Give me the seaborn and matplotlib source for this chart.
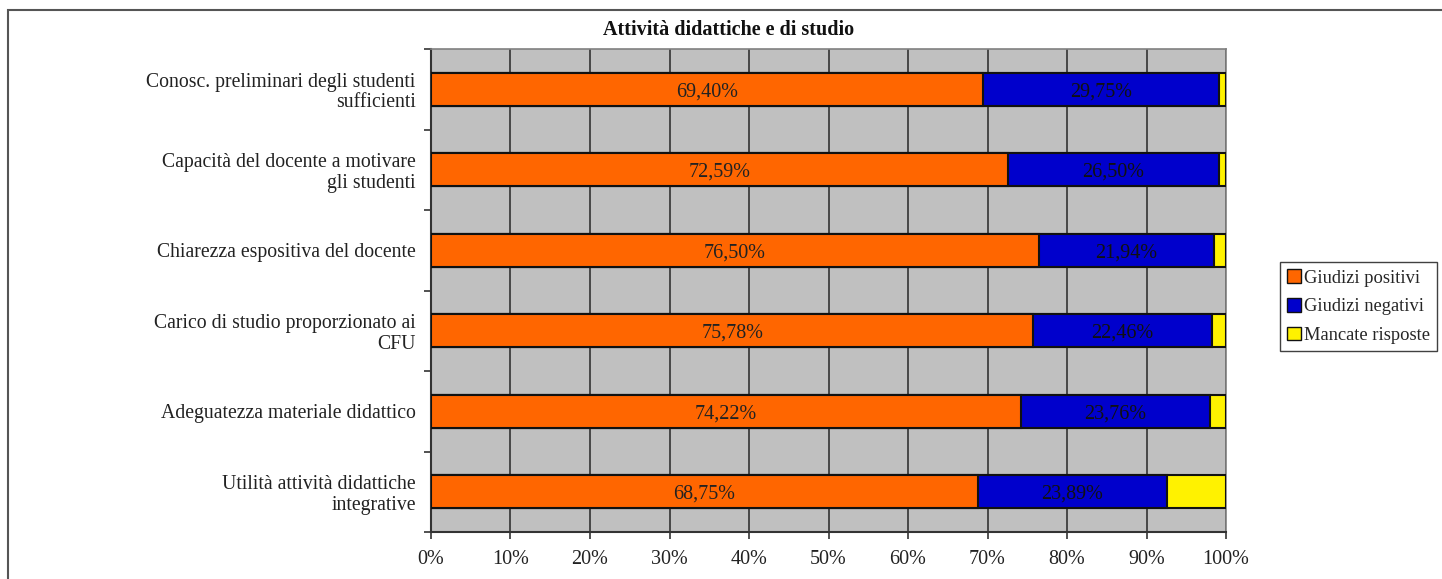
import matplotlib
matplotlib.use("Agg")
import matplotlib.pyplot as plt
import matplotlib.patches as mpatches
from matplotlib.ticker import FixedLocator
import seaborn as sns
import pandas as pd
import numpy as np

categories = [
    "Conosc. preliminari degli studenti\nsufficienti",
    "Capacità del docente a motivare\ngli studenti",
    "Chiarezza espositiva del docente",
    "Carico di studio proporzionato ai\nCFU",
    "Adeguatezza materiale didattico",
    "Utilità attività didattiche\nintegrative",
]
positivi = [69.40, 72.59, 76.50, 75.78, 74.22, 68.75]
negativi = [29.75, 26.50, 21.94, 22.46, 23.76, 23.89]
mancate = [0.85, 0.91, 1.56, 1.76, 2.02, 7.36]
series_names = ["Giudizi positivi", "Giudizi negativi", "Mancate risposte"]
colors = ["#FF6600", "#0000CC", "#FFF200"]
xticks = list(range(0, 101, 10))

sns.set_theme(style="white")
plt.rcParams["font.family"] = ["Liberation Serif", "DejaVu Serif"]

df = pd.DataFrame({"cat": categories, "pos": positivi, "neg": negativi, "mis": mancate})
df["c2"] = df["pos"] + df["neg"]
df["c3"] = df["c2"] + df["mis"]

fig = plt.figure(figsize=(14.42, 5.79), dpi=100)
ax = fig.add_axes([431/1442, 1-532/579, (1226-431)/1442, (532-49)/579])
ax.set_facecolor("#C0C0C0")

FS = 14.5
bw = 0.41
for col, c in [("c3", colors[2]), ("c2", colors[1]), ("pos", colors[0])]:
    sns.barplot(data=df, x=col, y="cat", orient="h", color=c, width=bw,
                edgecolor="#111111", linewidth=1.5, saturation=1, ax=ax, zorder=3)

for i, (p, n) in enumerate(zip(positivi, negativi)):
    ax.text(p/2, i, f"{p:.2f}%".replace(".", ","), ha="center", va="center_baseline",
            fontsize=FS, color="#222222", zorder=4)
    ax.text(p + n/2, i, f"{n:.2f}%".replace(".", ","), ha="center", va="center_baseline",
            fontsize=FS, color="#111111", zorder=4)

ax.set_xlim(0, 100)
ax.set_ylim(len(categories)-0.5, -0.5)
ax.set_xticks(xticks)
ax.set_xticklabels([f"{t}%" for t in xticks], fontsize=FS, color="#222222")
ax.set_yticks(range(len(categories)))
ax.set_yticklabels(categories, fontsize=14.2, color="#222222", linespacing=1.1)
ax.yaxis.set_minor_locator(FixedLocator(np.arange(-0.5, len(categories), 1.0)))
ax.tick_params(axis="y", which="major", length=0, pad=11)
ax.tick_params(axis="y", which="minor", length=5, width=1.2, color="#333333", direction="out", left=True)
ax.tick_params(axis="x", which="major", length=5, width=1.2, color="#333333", direction="out", bottom=True, pad=8)
ax.set_xlabel("")
ax.set_ylabel("")
ax.set_axisbelow(True)
ax.xaxis.grid(True, color="#333333", linewidth=1.2, zorder=0)
ax.yaxis.grid(False)
for s in ["left", "bottom"]:
    ax.spines[s].set_color("#333333")
    ax.spines[s].set_linewidth(1.5)
for s in ["top", "right"]:
    ax.spines[s].set_color("#808080")
    ax.spines[s].set_linewidth(1.2)

fig.text(729/1442, 1-30/579, "Attività didattiche e di studio", ha="center", va="center",
         fontsize=14.5, fontweight="bold", color="#111111")

handles = [mpatches.Patch(facecolor=c, edgecolor="#111111", linewidth=1.0, label=n)
           for c, n in zip(colors, series_names)]
leg = fig.legend(handles=handles, loc="upper left",
                 bbox_to_anchor=(1280/1442, 1-262/579), fontsize=13.3,
                 frameon=True, fancybox=False, edgecolor="#111111",
                 handlelength=0.75, handleheight=0.75, handletextpad=0.15,
                 labelspacing=0.62, borderpad=0.4, borderaxespad=0)
leg.get_frame().set_linewidth(1.0)

fig.add_artist(mpatches.Rectangle((8/1442, -0.1), 1.2, 1-10/579+0.1, transform=fig.transFigure,
                                  fill=False, edgecolor="#555555", linewidth=1.5, clip_on=False))

fig.savefig("out.png", dpi=100, facecolor="white")
